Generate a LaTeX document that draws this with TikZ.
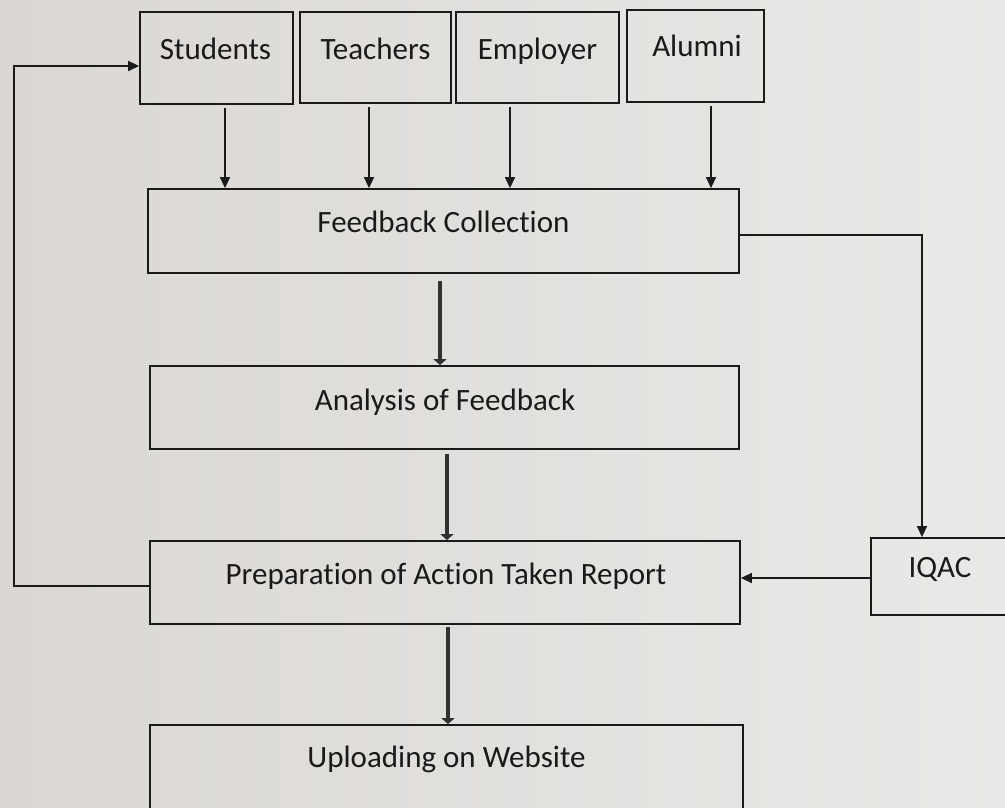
\documentclass[tikz,border=0pt]{standalone}
\usepackage{fontspec}
\setmainfont{Carlito}[Ligatures=NoCommon]
\usetikzlibrary{arrows.meta}
\definecolor{ink}{HTML}{1A1A1A}
\definecolor{bgL}{HTML}{DAD7D4}
\definecolor{bgR}{HTML}{EAE9E7}
\begin{document}
\begin{tikzpicture}[x=1pt,y=-1pt,
  box/.style={draw=ink, line width=1.8pt, rectangle, inner sep=0pt},
  txt/.style={anchor=base, text=ink, font=\fontsize{31}{36}\selectfont, inner sep=0pt},
  thinarrow/.style={draw=ink, line width=1.4pt, -{Triangle[length=11pt,width=10pt]}},
  thickarrow/.style={draw=ink!90, line width=4.5pt, -{Triangle[length=6pt,width=13pt]}}]
\useasboundingbox (0,0) rectangle (1005,808);
\clip (0,0) rectangle (1005,808);
\shade[left color=bgL, right color=bgR] (0,0) rectangle (1005,808);

% boxes
\node[box, minimum width=153pt, minimum height=92pt] (stu) at (216.5,58) {};
\node[box, minimum width=151pt, minimum height=91pt] (tea) at (375.5,57.5) {};
\node[box, minimum width=163pt, minimum height=91pt] (emp) at (537.5,57.5) {};
\node[box, minimum width=137pt, minimum height=92pt] (alu) at (695.5,56) {};
\node[box, minimum width=591pt, minimum height=84pt] (fb) at (443.5,231) {};
\node[box, minimum width=589pt, minimum height=83pt] (an) at (444.5,407.5) {};
\node[box, minimum width=590pt, minimum height=83pt] (pr) at (445,582.5) {};
\node[box, minimum width=593pt, minimum height=85pt] (up) at (446.5,767.5) {};
\node[box, minimum width=138pt, minimum height=77pt] (iq) at (940,576.5) {};

% texts
\node[txt] (stuT) at (215.5,60) {Students};
\node[txt] (teaT) at (375.5,59.5) {Teachers};
\node[txt] (empT) at (537.5,59.5) {Employer};
\node[txt] (aluT) at (697,57) {Alumni};
\node[txt] (fbT) at (443.5,232) {Feedback Collection};
\node[txt] (anT) at (445,410) {Analysis of Feedback};
\node[txt] (prT) at (446,584) {Preparation of Action Taken Report};
\node[txt] (upT) at (446.5,767) {Uploading on Website};
\node[txt] (iqT) at (940,577) {IQAC};

% stakeholder arrows
\draw[thinarrow] ([xshift=8.5pt,yshift=-3pt]stu.south) -- ([xshift=8.5pt]stu.south |- fb.north);
\draw[thinarrow] ([xshift=-6.5pt,yshift=-3pt]tea.south) -- ([xshift=-6.5pt]tea.south |- fb.north);
\draw[thinarrow] ([xshift=-27.5pt,yshift=-3pt]emp.south) -- ([xshift=-27.5pt]emp.south |- fb.north);
\draw[thinarrow] ([xshift=15.5pt,yshift=-3pt]alu.south) -- ([xshift=15.5pt]alu.south |- fb.north);

% main flow
\draw[thickarrow] ([xshift=-3.5pt,yshift=-7pt]fb.south) -- ([xshift=-3.5pt]fb.south |- an.north);
\draw[thickarrow] ([xshift=2.5pt,yshift=-4pt]an.south) -- ([xshift=2.5pt]an.south |- pr.north);
\draw[thickarrow] ([xshift=3pt,yshift=-2pt]pr.south) -- ([xshift=3pt]pr.south |- up.north);

% IQAC branch
\draw[thinarrow] ([yshift=-4pt]fb.east) -| ([xshift=-18pt]iq.north);
\draw[thinarrow] ([yshift=-1.5pt]iq.west) -- ([yshift=-1.5pt]iq.west -| pr.east);

% feedback loop
\coordinate (lb) at (14,586);
\coordinate (lt) at (14,66);
\draw[thinarrow] ([yshift=-3.5pt]pr.west) -- (lb) -- (lt) -- (lt -| stu.west);
\end{tikzpicture}
\end{document}
